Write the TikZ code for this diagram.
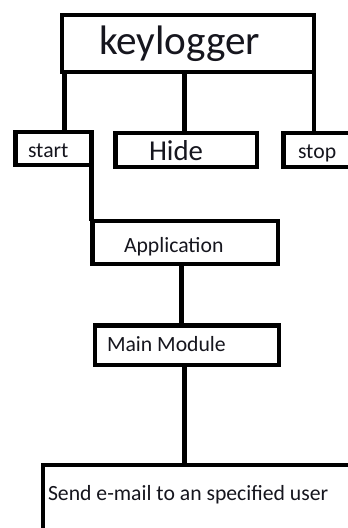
\documentclass[tikz,border=0pt]{standalone}
\usepackage{fontspec}
\setmainfont{Carlito}
\definecolor{inktext}{RGB}{22,22,30}
\begin{document}
\begin{tikzpicture}[x=1pt,y=-1pt,
  box/.style={draw=black,line width=4.5pt,rectangle,inner sep=0pt,outer sep=0pt,fill=white},
  link/.style={draw=black,line width=4.5pt},
  lbl/.style={anchor=base west,inner sep=0pt,outer sep=0pt,text=inktext,font=\fontsize{21.7}{26}\selectfont}]
\useasboundingbox (0,0) rectangle (348,528);
\clip (0,0) rectangle (348,528);
\fill[white] (0,0) rectangle (348,528);

% boxes
\node[box,minimum width=252pt,minimum height=57pt] (kl) at (188,43.5) {};
\node[box,minimum width=76pt,minimum height=33pt] (start) at (53.5,148.5) {};
\node[box,minimum width=141.5pt,minimum height=34pt] (hide) at (186.25,150) {};
\node[box,minimum width=81.5pt,minimum height=34pt] (stop) at (324.25,150) {};
\node[box,minimum width=185.5pt,minimum height=43pt] (app) at (185.25,242.5) {};
\node[box,minimum width=184pt,minimum height=39.5pt] (main) at (187,345.25) {};
\node[box,minimum width=322pt,minimum height=80pt] (send) at (204,505) {};

% connectors
\draw[link] ([xshift=2.5pt]kl.south west) -- ([xshift=2.5pt]kl.south west |- start.north);
\draw[link] ([xshift=-1.75pt]hide.north) -- ([xshift=-1.75pt]hide.north |- kl.south);
\draw[link] (kl.south east) -- (kl.south east |- stop.north);
\draw[link] (start.south east) -- (start.south east |- app.north);
\draw[link] ([xshift=-4pt]app.south) -- ([xshift=-4pt]app.south |- main.north);
\draw[link] ([xshift=-2.5pt]main.south) -- ([xshift=-2.5pt]main.south |- send.north);

% labels
\node[lbl,font=\fontsize{41.2}{49}\selectfont] (tkl) at (99,54) {keylogger};
\node[lbl] (tstart) at (28,157) {start};
\node[lbl,font=\fontsize{28.8}{34}\selectfont] (thide) at (149,160) {Hide};
\node[lbl] (tstop) at (298,158) {stop};
\node[lbl] (tapp) at (124,252) {Application};
\node[lbl] (tmain) at (107,351) {Main Module};
\node[lbl] (tsend) at (48,500) {Send e-mail to an specified user};
\end{tikzpicture}
\end{document}
